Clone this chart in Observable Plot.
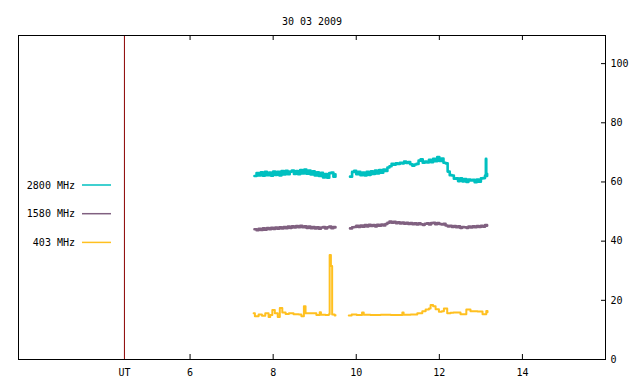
<!DOCTYPE html>
<html><head><meta charset="utf-8">
<script src="https://cdn.jsdelivr.net/npm/d3@7"></script>
<script src="https://cdn.jsdelivr.net/npm/@observablehq/plot@0.6"></script>
<style>body{margin:0;background:#fff}</style>
</head><body><div id="chart"></div>
<script>
const title = "30 03 2009";
const xTicks = [6, 8, 10, 12, 14];
const yTicks = [0, 20, 40, 60, 80, 100];
const utPos = 4.42;
const utLabel = "UT";
const labels = ["2800 MHz", "1580 MHz", "403 MHz"];
const colors = ["#00c0c0", "#806080", "#ffc020"];

// shared time grid (hours UT)
const tA = [7.55,7.6,7.65,7.7,7.75,7.8,7.85,7.9,7.95,8,8.05,8.1,8.15,8.2,8.25,8.3,8.35,8.4,8.45,8.5,8.55,8.6,8.65,8.7,8.75,8.8,8.85,8.9,8.95,9,9.05,9.1,9.15,9.2,9.25,9.3,9.35,9.4,9.45,9.5];
const tB = [9.85,9.9,9.95,10,10.05,10.1,10.15,10.2,10.25,10.3,10.35,10.4,10.45,10.5,10.55,10.6,10.65,10.7,10.75,10.8,10.85,10.9,10.95,11,11.05,11.1,11.15,11.2,11.25,11.3,11.35,11.4,11.45,11.5,11.55,11.6,11.65,11.7,11.75,11.8,11.85,11.9,11.95,12,12.05,12.1,12.15,12.2,12.25,12.3,12.35,12.4,12.45,12.5,12.55,12.6,12.65,12.7,12.75,12.8,12.85,12.9,12.95,13,13.05,13.1,13.15];

// 2800 MHz
const v2800A = [62.0,63.0,62.2,63.3,62.1,63.4,62.3,63.2,62.1,63.5,62.4,63.4,62.2,63.7,62.5,63.8,62.6,63.5,63.9,62.7,63.7,62.6,64.0,62.9,64.2,62.8,63.9,62.5,63.6,62.2,63.3,62.0,63.1,61.5,62.7,61.4,63.0,63.2,61.8,62.6];
const t2800B = [9.85,9.9,9.95,10,10.05,10.1,10.15,10.2,10.25,10.3,10.35,10.4,10.45,10.5,10.55,10.6,10.65,10.7,10.75,10.8,10.85,10.9,10.95,11,11.05,11.1,11.15,11.2,11.25,11.3,11.35,11.4,11.45,11.5,11.55,11.6,11.65,11.7,11.75,11.8,11.85,11.9,11.95,12,12.05,12.1,12.15,12.2,12.25,12.3,12.35,12.4,12.45,12.5,12.55,12.6,12.65,12.7,12.75,12.8,12.85,12.9,12.95,13,13.05,13.1,13.12,13.13,13.15];
const v2800B = [61.8,63.4,63.8,62.6,63.4,62.3,63.2,62.2,63.4,62.4,63.6,62.7,63.9,62.9,64.0,63.1,64.2,63.7,64.9,65.3,66.1,65.8,66.3,66.1,66.5,66.3,66.9,66.4,66.7,66.0,65.5,65.9,66.1,67.2,67.7,66.5,66.9,66.6,67.5,66.7,67.8,67.0,68.4,67.1,67.9,66.5,66.3,63.5,62.3,62.2,61.1,61.2,60.3,61.2,60.2,61.0,60.0,60.8,60.5,60.7,59.9,60.8,60.1,61.2,61.3,62.2,67.8,62.0,62.8];

// 1580 MHz
const v1580A = [44.0,43.7,44.2,43.8,44.3,43.9,44.4,44.0,44.5,44.1,44.6,44.2,44.7,44.3,44.8,44.4,44.9,44.5,45.0,44.6,45.1,44.7,45.2,44.7,45.0,44.5,44.9,44.4,44.8,44.3,44.7,44.2,44.6,44.8,44.3,44.7,44.9,44.4,44.8,44.6];
const v1580B = [44.3,44.7,44.8,45.2,44.8,45.3,44.9,45.4,45.0,45.5,45.1,45.4,45.0,45.5,45.2,45.6,45.3,45.8,46.2,46.6,46.2,46.5,46.1,46.4,46.0,46.3,45.9,46.2,45.8,46.1,45.7,46.0,45.6,46.0,45.7,45.5,45.9,46.0,45.6,46.1,46.2,45.7,46.1,45.8,45.6,45.9,45.3,45.0,45.2,44.8,45.1,44.7,45.0,44.5,44.8,44.7,44.5,44.9,44.6,45.0,44.7,45.1,44.8,45.2,44.9,45.4,45.2];

// 403 MHz
const t403A = [7.53,7.56,7.65,7.73,7.81,7.89,7.93,7.98,8.04,8.11,8.16,8.22,8.30,8.38,8.49,8.62,8.68,8.74,8.78,8.94,9.04,9.12,9.15,9.26,9.34,9.36,9.39,9.42,9.48,9.50];
const v403A = [15.6,14.6,15.2,14.8,15.6,14.4,15.0,16.7,15.6,14.4,17.4,15.9,15.4,15.6,15.3,15.2,14.6,18.0,15.6,15.6,15.0,16.0,15.1,15.0,15.3,35.3,31.6,15.2,14.9,15.0];
const t403B = [9.82,9.89,10.01,10.14,10.18,10.34,10.59,10.83,11.11,11.14,11.31,11.47,11.59,11.67,11.75,11.79,11.85,11.91,11.99,12.06,12.11,12.19,12.27,12.34,12.51,12.65,12.75,12.92,13.04,13.13,13.16];
const v403B = [14.9,15.2,15.0,15.9,15.1,15.0,15.1,15.0,15.9,15.1,15.2,15.6,16.3,16.9,17.2,18.4,18.0,17.0,16.1,16.3,17.2,15.6,15.8,15.9,15.3,16.9,16.3,16.2,15.3,16.4,16.0];

function seriesRows(name, ta, va, tb, vb) {
  return [
    ...ta.map((t, i) => ({name, t, v: va[i]})),
    {name, t: (ta[ta.length - 1] + tb[0]) / 2, v: NaN},
    ...tb.map((t, i) => ({name, t, v: vb[i]}))
  ];
}
const data = [
  ...seriesRows(labels[0], tA, v2800A, t2800B, v2800B),
  ...seriesRows(labels[1], tA, v1580A, tB, v1580B),
  ...seriesRows(labels[2], t403A, v403A, t403B, v403B)
];

const W = 640, H = 384, mL = 18, mR = 35, mT = 35, mB = 25;
const fW = W - mL - mR, fH = H - mT - mB;
const font = "DejaVu Sans Mono";

const chart = Plot.plot({
  width: W, height: H,
  marginLeft: mL, marginRight: mR, marginTop: mT, marginBottom: mB,
  style: {fontFamily: font, fontSize: "10px", background: "#fff", color: "#000"},
  x: {domain: [1.87, 16], label: null},
  y: {domain: [0, 109.5], label: null},
  color: {domain: labels, range: colors},
  marks: [
    Plot.ruleX([utPos], {stroke: "#8b0000", strokeWidth: 1}),
    Plot.line(data.filter(d => d.name !== labels[2]), {x: "t", y: "v", z: "name", stroke: "name", strokeWidth: 2.6, curve: "step-after"}),
    Plot.line(data.filter(d => d.name === labels[2]), {x: "t", y: "v", z: "name", stroke: "name", strokeWidth: 2, curve: "step-after"}),
    Plot.frame({stroke: "#000", strokeWidth: 1}),
    Plot.tickX(xTicks, {x: d => d, insetTop: fH - 5, stroke: "#000"}),
    Plot.tickX(xTicks, {x: d => d, insetBottom: fH - 5, stroke: "#000"}),
    Plot.tickY(yTicks, {y: d => d, insetLeft: fW - 4, stroke: "#000"}),
    Plot.axisX([utPos, ...xTicks], {anchor: "bottom", tickSize: 0, tickPadding: 9, tickFormat: d => d === utPos ? utLabel : String(d), fontSize: 10, label: null}),
    Plot.axisY(yTicks, {anchor: "right", tickSize: 0, tickPadding: 5, tickFormat: d => String(d), fontSize: 10, label: null}),
    Plot.text([title], {frameAnchor: "top", dy: -14, fontSize: 10, lineAnchor: "middle"})
  ]
});

// legend (inside plot, left side)
const svg = d3.select(chart);
const lg = svg.append("g").attr("font-family", font).attr("font-size", 10);
labels.forEach((lab, i) => {
  const y = 185 + i * 28.7;
  lg.append("text").attr("x", 75).attr("y", y).attr("dy", "0.35em").attr("text-anchor", "end").attr("fill", "#000").text(lab);
  lg.append("line").attr("x1", 82).attr("x2", 111).attr("y1", y).attr("y2", y).attr("stroke", colors[i]).attr("stroke-width", 1.5);
});

document.getElementById("chart").appendChild(chart);
</script>
</body></html>
